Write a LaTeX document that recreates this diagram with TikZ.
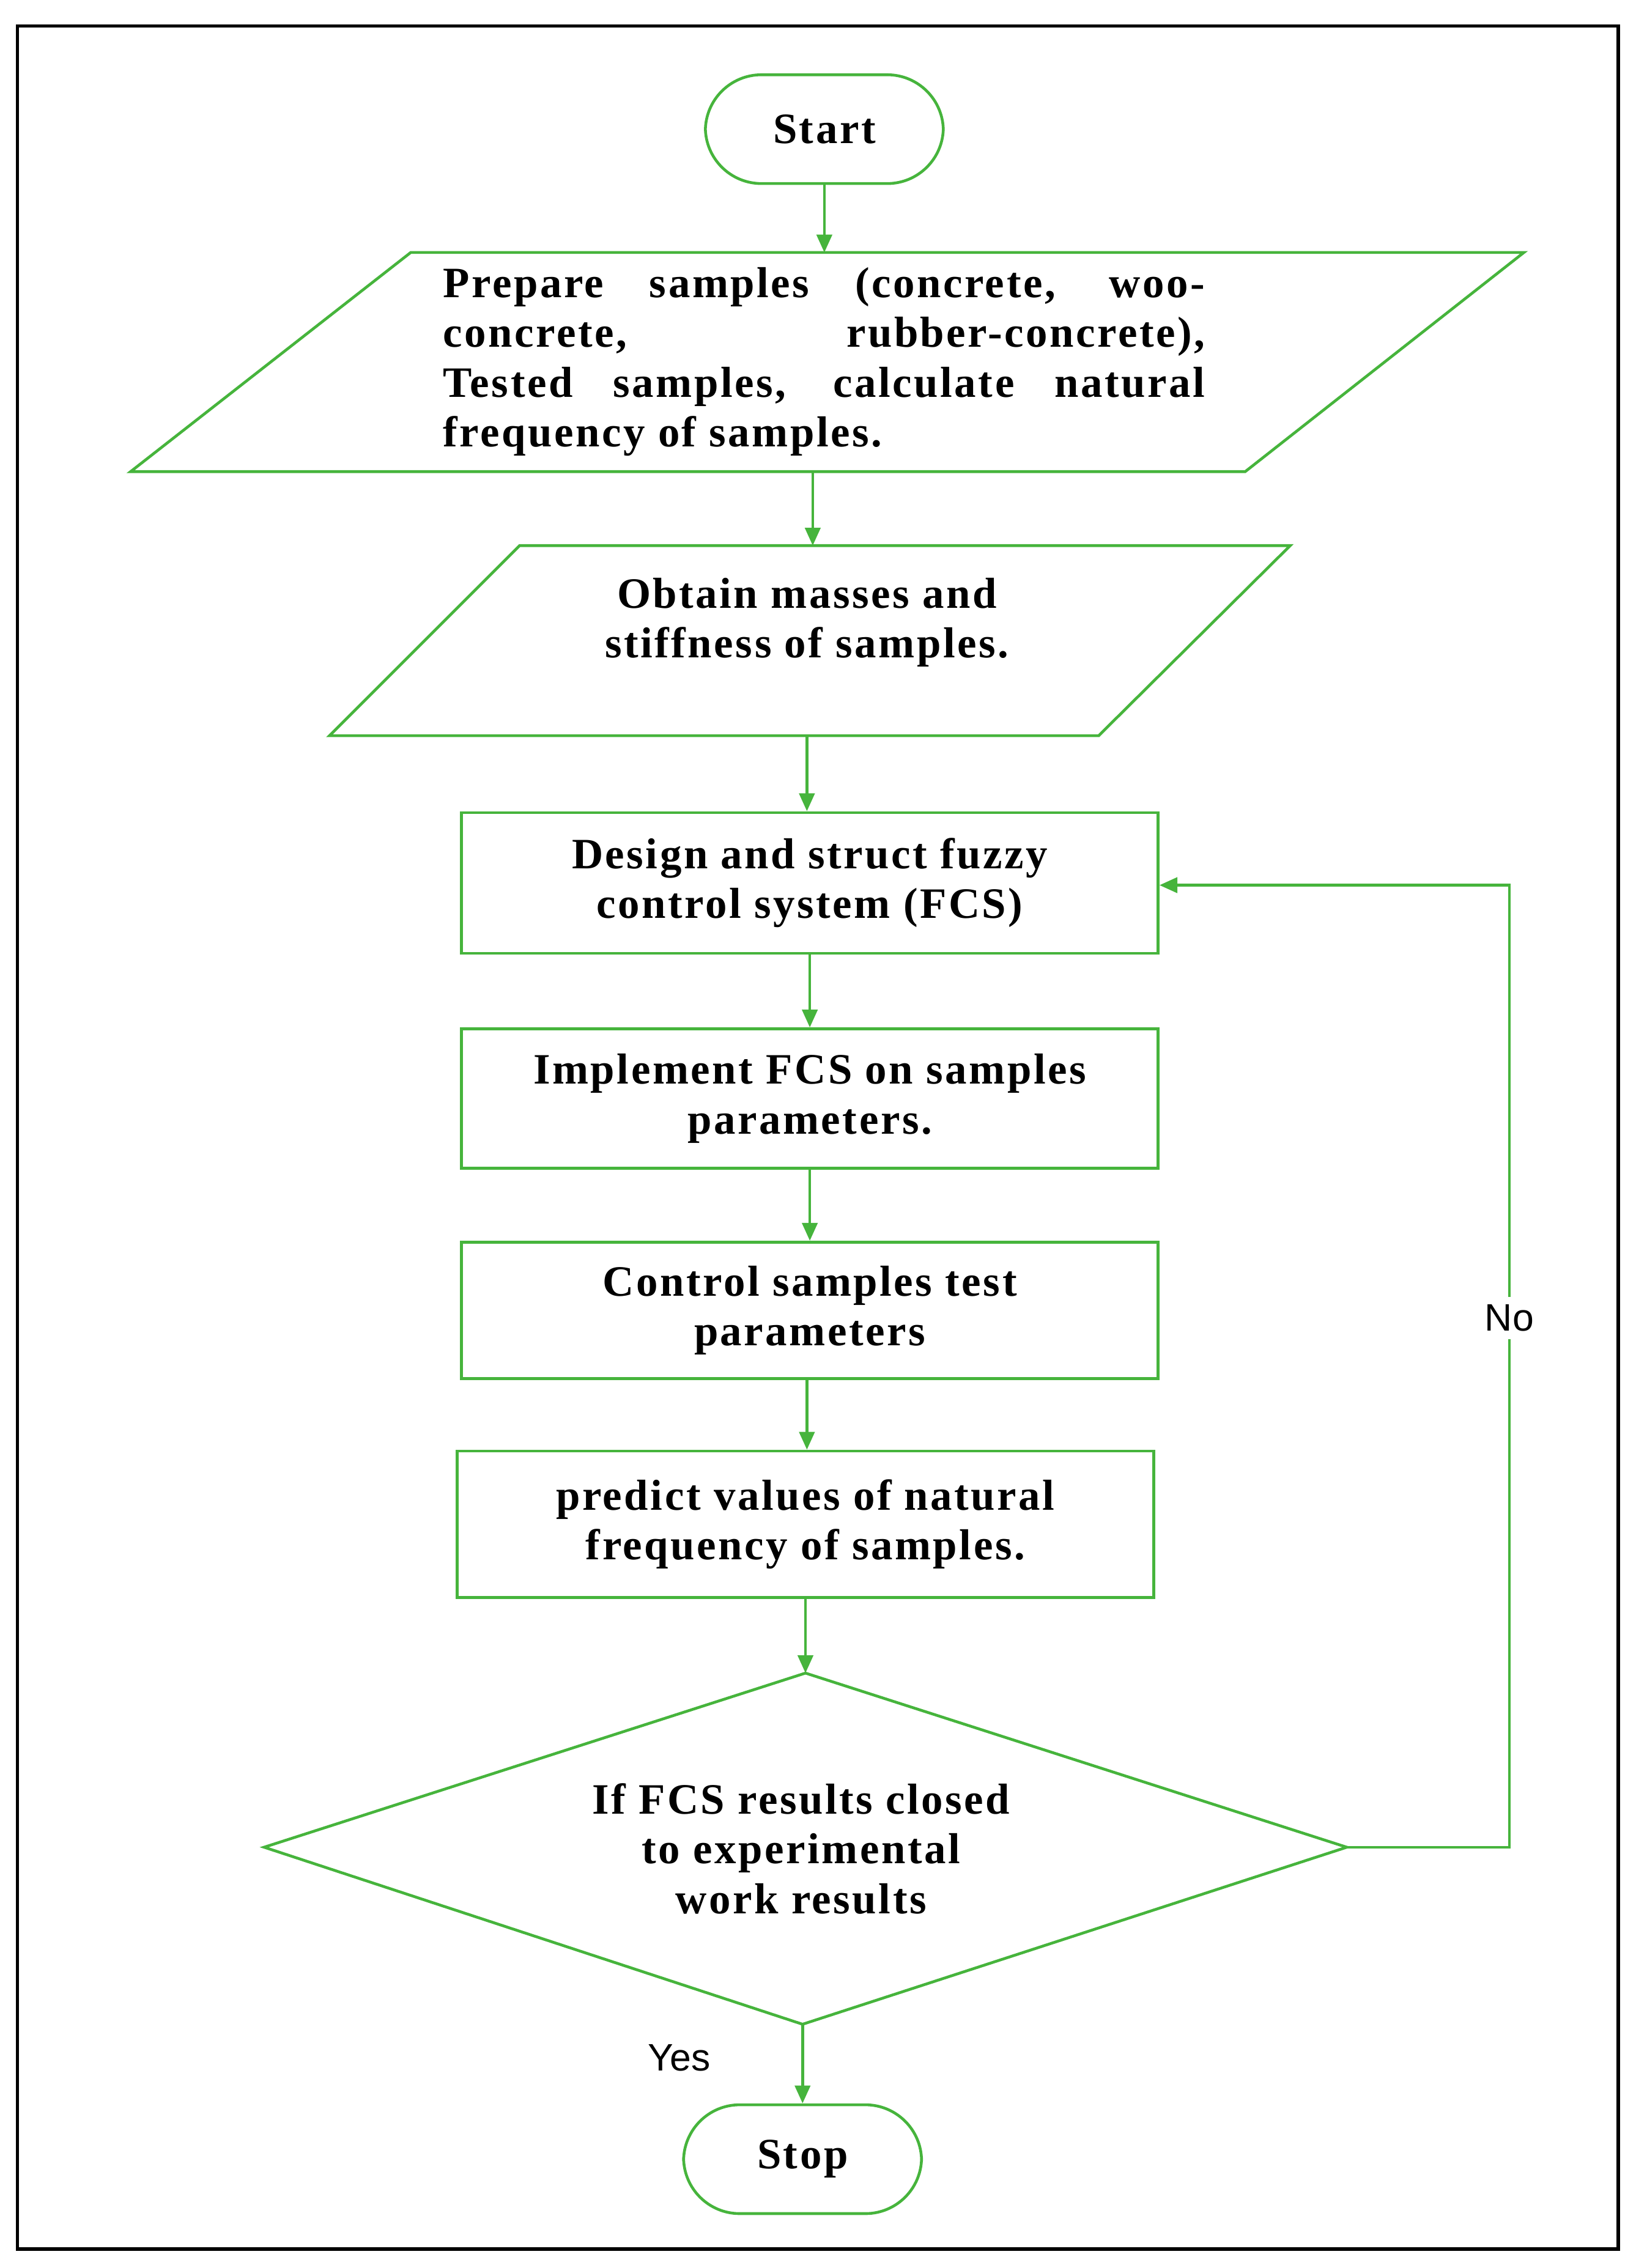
\documentclass[tikz,border=0pt]{standalone}
\usepackage{fontspec}
\setmainfont{Liberation Serif}[LetterSpace=5]
\newfontfamily\sansf{Liberation Sans}
\usetikzlibrary{arrows.meta}
\definecolor{fg}{RGB}{70,180,60}
\begin{document}
\begin{tikzpicture}[x=0.02cm,y=-0.02cm,
  line/.style={draw=fg,line width=1.1pt},
  arr/.style={line,-{Triangle[length=7pt,width=6pt]}},
  txt/.style={font=\fontsize{17}{19.5}\selectfont\bfseries,align=center,inner sep=0pt},
  box/.style={line,rectangle,minimum width=9.6cm,txt},
  term/.style={line,rectangle,rounded corners=22pt,minimum width=3.28cm,minimum height=1.5cm,txt}]
\useasboundingbox (0,0) rectangle (1127,1563);
\draw[line width=1.3pt] (12,18) rectangle (1115,1550);
\node[term] (start) at (568,89) {Start};
% parallelogram 1
\draw[line] (90,325) -- (283,174) -- (1050,174) -- (858,325) -- cycle;
\coordinate (p1t) at (568,174); \coordinate (p1b) at (560,325);
\node[txt,align=left,anchor=north west] (p1) at (305,184) {%
\makebox[10.5cm][s]{Prepare samples (concrete, woo-}\\
\makebox[10.5cm][s]{concrete, rubber-concrete),}\\
\makebox[10.5cm][s]{Tested samples, calculate natural}\\
frequency of samples.};
% parallelogram 2
\draw[line] (227,507) -- (358,376) -- (889,376) -- (757,507) -- cycle;
\coordinate (p2t) at (560,376); \coordinate (p2b) at (556,507);
\node[txt] (p2) at (556,429) {Obtain masses and\\stiffness of samples.};
\node[box,minimum height=1.94cm] (b1) at (558,608.5) {Design and struct fuzzy\\control system (FCS)};
\node[box,minimum height=1.92cm] (b2) at (558,757) {Implement FCS on samples\\parameters.};
\node[box,minimum height=1.88cm] (b3) at (558,903) {Control samples test\\parameters};
\node[box,minimum height=2.02cm] (b4) at (555,1050.5) {predict values of natural\\frequency of samples.};
\draw[line] (182,1273) coordinate (dl) -- (555,1153) coordinate (dt) -- (928,1273) coordinate (dr) -- (553,1395) coordinate (db) -- cycle;
\node[txt] (d) at (552,1274) {If FCS results closed\\to experimental\\work results};
\node[term] (stop) at (553,1488) {Stop};
\draw[arr] (start.south) -- (p1t);
\draw[arr] (p1b) -- (p2t);
\draw[arr] (p2b) -- (b1.north-|p2b);
\draw[arr] (b1.south) -- (b2.north);
\draw[arr] (b2.south) -- (b3.north);
\draw[arr] (b3.south) ++(-2,0) coordinate (b3s) -- (b4.north-|b3s);
\draw[arr] (b4.south) -- (dt);
\draw[arr] (db) -- (stop.north);
\coordinate (c1) at (1040,1273); \coordinate (c2) at (1040,610);
\draw[arr] (dr) -- (c1) -- node[pos=0.55,fill=white,inner sep=3pt,font=\sansf\fontsize{15}{18}\selectfont] (no) {No} (c2) -- (b1.east|-c2);
\node[font=\sansf\fontsize{15}{18}\selectfont] (yes) at (468,1418) {Yes};
\end{tikzpicture}
\end{document}
